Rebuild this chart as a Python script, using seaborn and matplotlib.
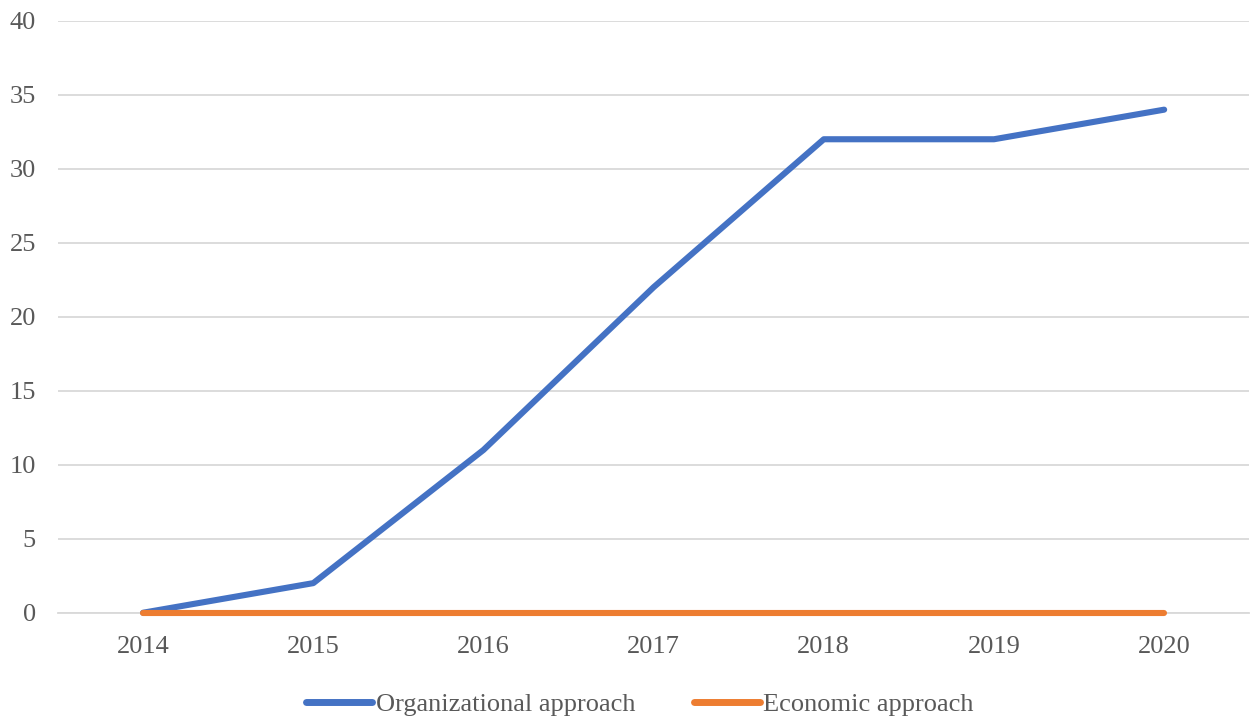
import pandas as pd
import seaborn as sns
import matplotlib.pyplot as plt

years = ["2014", "2015", "2016", "2017", "2018", "2019", "2020"]
organizational = [0, 2, 11, 22, 32, 32, 34]
economic = [0, 0, 0, 0, 0, 0, 0]
series_names = ["Organizational approach", "Economic approach"]

df = pd.DataFrame({
    "year": years * 2,
    "pos": list(range(len(years))) * 2,
    "value": organizational + economic,
    "series": [series_names[0]] * len(years) + [series_names[1]] * len(years),
})

sns.set_style("white")
plt.rcParams["font.family"] = ["Liberation Serif", "DejaVu Serif"]

fig = plt.figure(figsize=(12.5, 7.2), dpi=100)
ax = fig.add_axes([0.0464, 0.149, 0.953, 0.822])

sns.lineplot(data=df, x="pos", y="value", hue="series", hue_order=series_names,
             palette=["#4472C4", "#ED7D31"], linewidth=4.4, ax=ax,
             solid_capstyle="round", legend=False)
# keep the zero line fully visible above the axis line
for line in ax.lines:
    line.set_clip_on(False)
    line.set_zorder(3)

ax.set_xlim(-0.5, 6.5)
ax.set_ylim(0, 40)
ax.set_yticks(range(0, 41, 5))
ax.set_xticks(range(len(years)))
ax.set_xticklabels(years)
ax.set_xlabel("")
ax.set_ylabel("")
ax.grid(axis="y", color="#D9D9D9", linewidth=1.3)
ax.set_axisbelow(True)
for side in ["left", "right", "top"]:
    ax.spines[side].set_visible(False)
ax.spines["bottom"].set_color("#D9D9D9")
ax.spines["bottom"].set_linewidth(1.3)
ax.tick_params(axis="both", length=0, labelsize=19, colors="#595959")
ax.tick_params(axis="x", pad=17)
ax.tick_params(axis="y", pad=16)

handles = [plt.Line2D([], [], color=c, linewidth=5, solid_capstyle="round")
           for c in ["#4472C4", "#ED7D31"]]
fig.legend(handles, series_names, loc="center", bbox_to_anchor=(0.512, 0.022),
           ncol=2, frameon=False, fontsize=19, handlelength=2.5, handletextpad=0.15,
           columnspacing=2.2, labelcolor="#595959")

fig.savefig("out.png", dpi=100)
